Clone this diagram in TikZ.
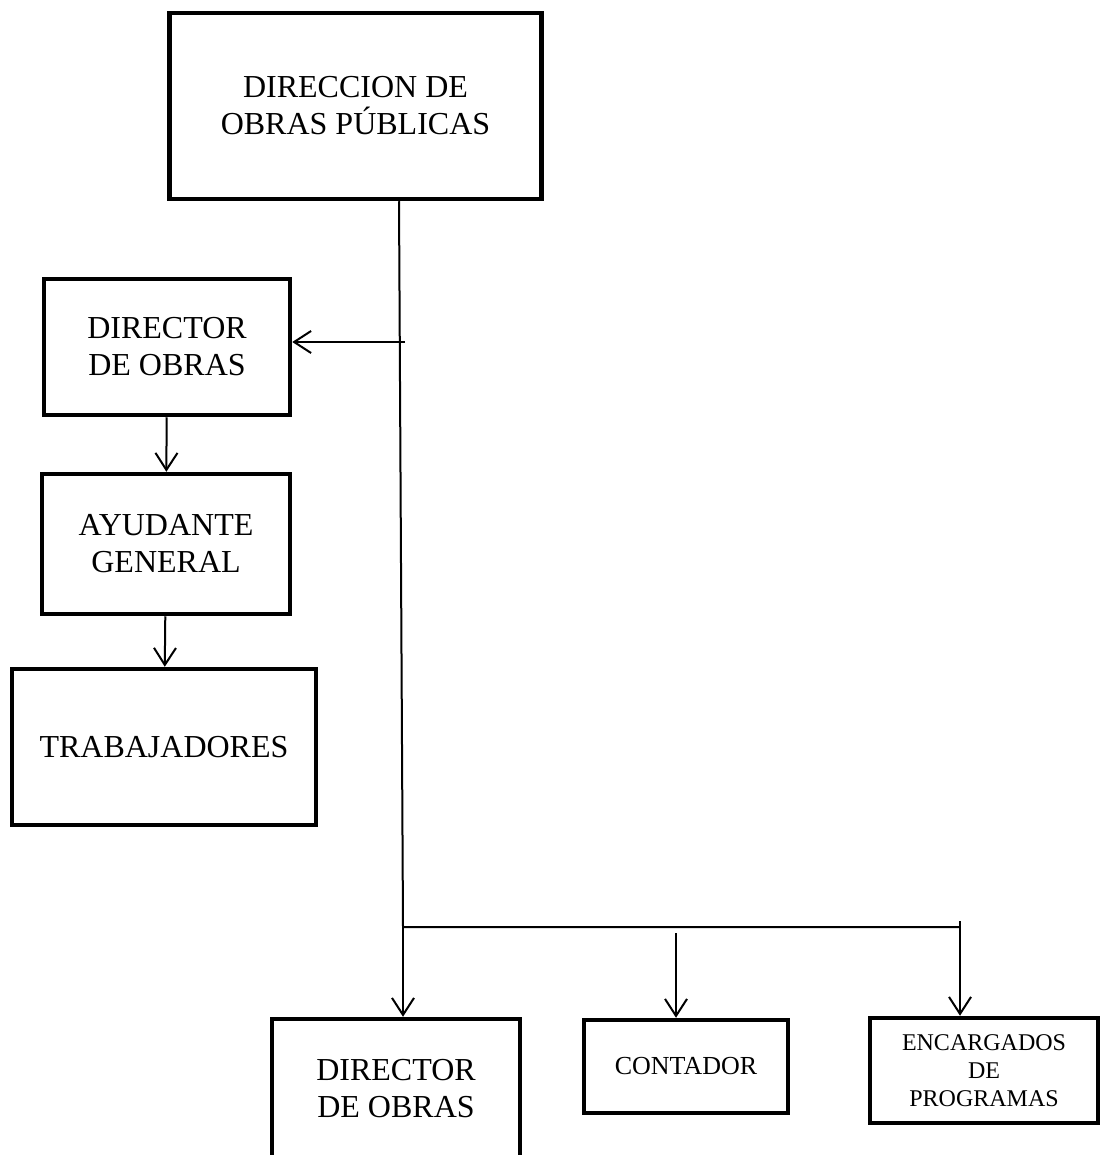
\documentclass[tikz,border=0pt]{standalone}
\usepackage{fontspec}
\setmainfont{Liberation Serif}
\usepackage{tikz}
\usetikzlibrary{arrows.meta}
\usetikzlibrary{positioning, calc}

\newcommand{\letragrande}{\fontsize{32}{37}\selectfont}
\newcommand{\letramedia}{\fontsize{26}{30}\selectfont}
\newcommand{\letrachica}{\fontsize{24}{28}\selectfont}

\tikzset{
    caja/.style={draw, rectangle, line width=4.5pt, align=center, inner sep=0pt},
    linea/.style={line width=2pt},
    flecha/.style={line width=2pt, -{Straight Barb[length=17pt,width=22pt]}}
}

\begin{document}
\begin{tikzpicture}[x=1pt, y=-1pt]
    \useasboundingbox (0,0) rectangle (1115,1155);

    % cajas
    \node[caja, minimum width=372pt, minimum height=186pt, font=\letragrande]
        (direccion) at (355.5,106) {DIRECCION DE\\OBRAS PÚBLICAS};
    \node[caja, minimum width=246pt, minimum height=136pt, font=\letragrande]
        (director) at (167,347) {DIRECTOR\\DE OBRAS};
    \node[caja, minimum width=248pt, minimum height=140pt, font=\letragrande]
        (ayudante) at (166,544) {AYUDANTE\\GENERAL};
    \node[caja, minimum width=304pt, minimum height=156pt, font=\letragrande]
        (trabajadores) at (164,747) {TRABAJADORES};
    \node[caja, minimum width=248pt, minimum height=140pt, font=\letragrande]
        (directorb) at (396,1089) {DIRECTOR\\DE OBRAS};
    \node[caja, minimum width=204pt, minimum height=93pt, font=\letramedia]
        (contador) at (686,1066.5) {CONTADOR};
    \node[caja, minimum width=228pt, minimum height=105pt, font=\letrachica]
        (encargados) at (984,1070.5) {ENCARGADOS\\DE\\PROGRAMAS};

    % puntos de la linea principal
    \coordinate (bajada) at ($(direccion.south)+(43.5,0)$);
    \coordinate (rama) at (403,927);
    \coordinate (izq) at (405,342);
    \coordinate (centro) at (676,933);
    \coordinate (der) at (960,927);
    \coordinate (dertope) at (960,921);

    % conectores
    \draw[linea] (bajada) -- (rama) -- (der);
    \draw[flecha] (izq) -- (izq -| director.east);
    \draw[flecha] (director) -- (ayudante);
    \draw[flecha] (ayudante) -- (trabajadores);
    \draw[flecha] (rama) -- (rama |- directorb.north);
    \draw[flecha] (centro) -- (centro |- contador.north);
    \draw[flecha] (dertope) -- (dertope |- encargados.north);

\end{tikzpicture}
\end{document}
